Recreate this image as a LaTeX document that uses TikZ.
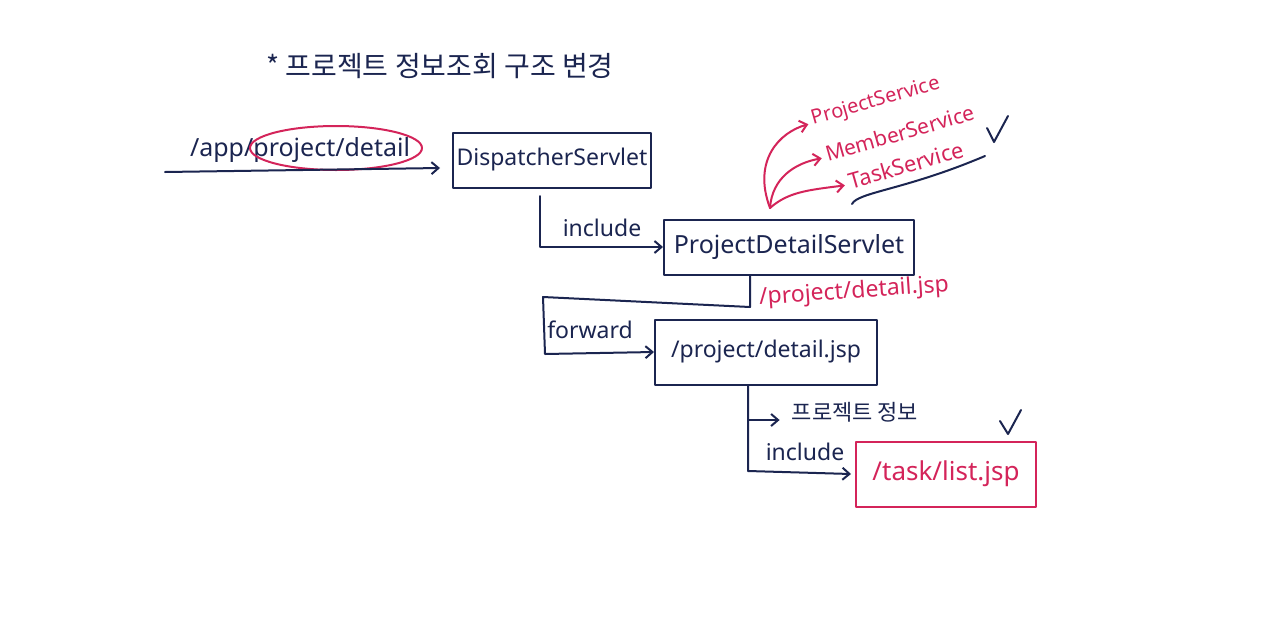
\documentclass[tikz,border=0pt]{standalone}
\usepackage{fontspec}
\setmainfont{Noto Sans}
\newfontfamily\kr{Noto Sans CJK KR}
\usetikzlibrary{arrows.meta,calc}
\definecolor{navy}{HTML}{1B2550}
\definecolor{crim}{HTML}{D4245A}
\tikzset{
  ink/.style={draw=navy,line width=2pt,line cap=round,line join=round},
  rink/.style={draw=crim,line width=2pt,line cap=round,line join=round},
  arr/.style={-{Straight Barb[length=7pt,width=12pt,line width=2pt]}},
  boxn/.style={ink,rectangle,inner sep=0pt,text=navy},
  rboxn/.style={rink,rectangle,inner sep=0pt,text=crim},
  lbl/.style={text=navy,inner sep=0pt},
  rlbl/.style={text=crim,inner sep=0pt},
}
\newcommand{\fs}[1]{\fontsize{#1}{#1}\selectfont}
\begin{document}
\begin{tikzpicture}[x=1pt,y=-1pt]
\useasboundingbox (0,0) rectangle (1280,635);
\fill[white] (0,0) rectangle (1280,635);
% title
\node[lbl] (title) at (440,66) {\kr\fs{28}* 프로젝트 정보조회 구조 변경};
% boxes
\node[boxn,minimum width=198pt,minimum height=55pt] (ds) at (552,160) {\fs{23}DispatcherServlet};
\node[boxn,minimum width=250pt,minimum height=55pt] (pds) at (789,247) {\fs{25}ProjectDetailServlet};
\node[boxn,minimum width=222pt,minimum height=65pt] (jsp) at (766,352) {\fs{23}/project/detail.jsp};
\node[rboxn,minimum width=180pt,minimum height=65pt] (tl) at (946,474) {\fs{26}/task/list.jsp};
% incoming request
\coordinate (start) at (165,172);
\node[lbl] (url) at (300,150) {\fs{25}/app/project/detail};
\draw[rink] (336,148) ellipse [x radius=86, y radius=22];
\draw[ink,arr] (start) -- ($(ds.west)+(-12,8)$);
% include to ProjectDetailServlet
\coordinate (i1) at (540,196);
\draw[ink,arr] (i1) |- (pds.west);
\node[lbl] (inc1) at (602,228) {\fs{23}include};
% services
\coordinate (rs) at (770,208);
\node[rlbl,rotate=16] (ps) at (876,102) {\fs{20}ProjectService};
\node[rlbl,rotate=16] (ms) at (900,133) {\fs{21}MemberService};
\node[rlbl,rotate=16] (ts) at (906,165) {\fs{22}TaskService};
\draw[rink,arr] (rs) .. controls (752,160) and (780,132) .. ($(ps.west)+(-4,4)$);
\draw[rink,arr] (rs) .. controls (772,178) and (795,163) .. ($(ms.west)+(-4,4)$);
\draw[rink,arr] (rs) .. controls (788,192) and (808,190) .. ($(ts.west)+(-4,4)$);
\draw[ink] (852,204) .. controls (858,192) and (905,190) .. (985,156);
\draw[ink] (987,128) -- (994,142) -- (1008,116);
% forward
\coordinate (f0) at (750,275);
\coordinate (f1) at (750,307);
\coordinate (f2) at (543,297);
\coordinate (f3) at (545,354);
\draw[ink,arr] (f0) -- (f1) -- (f2) -- (f3) -- (jsp.west);
\node[lbl] (fwd) at (590,330) {\fs{23}forward};
\node[rlbl,rotate=4] (rjsp) at (854,292) {\fs{23}/project/detail.jsp};
% from jsp to task list
\coordinate (j0) at (748,386);
\coordinate (j1) at (748,420);
\coordinate (j2) at (748,471);
\node[lbl] (info) at (855,412) {\kr\fs{22}프로젝트 정보};
\draw[ink,arr] (j0) -- (j2) -- ($(tl.west)+(-4,0)$);
\draw[ink,arr] (j1) -- ($(info.west)+(-12,8)$);
\node[lbl] (inc2) at (805,452) {\fs{23}include};
\draw[ink] (1000,421) -- (1008,434) -- (1021,410);
\end{tikzpicture}
\end{document}
